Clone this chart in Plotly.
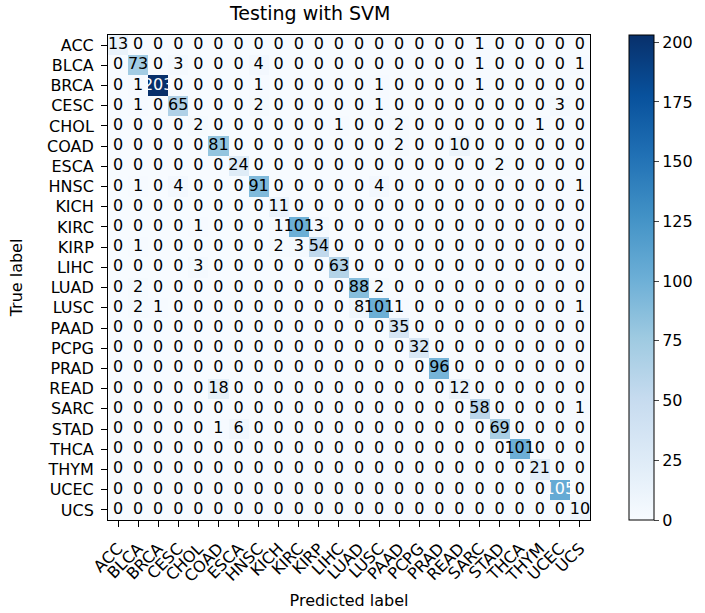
import plotly.graph_objects as go

labels = ["ACC", "BLCA", "BRCA", "CESC", "CHOL", "COAD", "ESCA", "HNSC", "KICH", "KIRC",
          "KIRP", "LIHC", "LUAD", "LUSC", "PAAD", "PCPG", "PRAD", "READ", "SARC", "STAD",
          "THCA", "THYM", "UCEC", "UCS"]

# rows = true label, columns = predicted label
row_ACC  = [13,0,0,0,0,0,0,0,0,0,0,0,0,0,0,0,0,0,1,0,0,0,0,0]
row_BLCA = [0,73,0,3,0,0,0,4,0,0,0,0,0,0,0,0,0,0,1,0,0,0,0,1]
row_BRCA = [0,1,203,0,0,0,0,1,0,0,0,0,0,1,0,0,0,0,1,0,0,0,0,0]
row_CESC = [0,1,0,65,0,0,0,2,0,0,0,0,0,1,0,0,0,0,0,0,0,0,3,0]
row_CHOL = [0,0,0,0,2,0,0,0,0,0,0,1,0,0,2,0,0,0,0,0,0,1,0,0]
row_COAD = [0,0,0,0,0,81,0,0,0,0,0,0,0,0,2,0,0,10,0,0,0,0,0,0]
row_ESCA = [0,0,0,0,0,0,24,0,0,0,0,0,0,0,0,0,0,0,0,2,0,0,0,0]
row_HNSC = [0,1,0,4,0,0,0,91,0,0,0,0,0,4,0,0,0,0,0,0,0,0,0,1]
row_KICH = [0,0,0,0,0,0,0,0,11,0,0,0,0,0,0,0,0,0,0,0,0,0,0,0]
row_KIRC = [0,0,0,0,1,0,0,0,1,101,3,0,0,0,0,0,0,0,0,0,0,0,0,0]
row_KIRP = [0,1,0,0,0,0,0,0,2,3,54,0,0,0,0,0,0,0,0,0,0,0,0,0]
row_LIHC = [0,0,0,0,3,0,0,0,0,0,0,63,0,0,0,0,0,0,0,0,0,0,0,0]
row_LUAD = [0,2,0,0,0,0,0,0,0,0,0,0,88,2,0,0,0,0,0,0,0,0,0,0]
row_LUSC = [0,2,1,0,0,0,0,0,0,0,0,0,8,101,1,0,0,0,0,0,0,0,0,1]
row_PAAD = [0,0,0,0,0,0,0,0,0,0,0,0,0,0,35,0,0,0,0,0,0,0,0,0]
row_PCPG = [0,0,0,0,0,0,0,0,0,0,0,0,0,0,0,32,0,0,0,0,0,0,0,0]
row_PRAD = [0,0,0,0,0,0,0,0,0,0,0,0,0,0,0,0,96,0,0,0,0,0,0,0]
row_READ = [0,0,0,0,0,18,0,0,0,0,0,0,0,0,0,0,0,12,0,0,0,0,0,0]
row_SARC = [0,0,0,0,0,0,0,0,0,0,0,0,0,0,0,0,0,0,58,0,0,0,0,1]
row_STAD = [0,0,0,0,0,1,6,0,0,0,0,0,0,0,0,0,0,0,0,69,0,0,0,0]
row_THCA = [0,0,0,0,0,0,0,0,0,0,0,0,0,0,0,0,0,0,0,0,101,0,0,0]
row_THYM = [0,0,0,0,0,0,0,0,0,0,0,0,0,0,0,0,0,0,0,0,0,21,0,0]
row_UCEC = [0,0,0,0,0,0,0,0,0,0,0,0,0,0,0,0,0,0,0,0,0,0,105,0]
row_UCS  = [0,0,0,0,0,0,0,0,0,0,0,0,0,0,0,0,0,0,0,0,0,0,0,10]

matrix = [row_ACC, row_BLCA, row_BRCA, row_CESC, row_CHOL, row_COAD, row_ESCA, row_HNSC,
          row_KICH, row_KIRC, row_KIRP, row_LIHC, row_LUAD, row_LUSC, row_PAAD, row_PCPG,
          row_PRAD, row_READ, row_SARC, row_STAD, row_THCA, row_THYM, row_UCEC, row_UCS]

colorbar_ticks = [0, 25, 50, 75, 100, 125, 150, 175, 200]

blues = [[0.0, "rgb(247,251,255)"], [0.125, "rgb(222,235,247)"], [0.25, "rgb(198,219,239)"],
         [0.375, "rgb(158,202,225)"], [0.5, "rgb(107,174,214)"], [0.625, "rgb(66,146,198)"],
         [0.75, "rgb(33,113,181)"], [0.875, "rgb(8,81,156)"], [1.0, "rgb(8,48,107)"]]

zmax = max(max(r) for r in matrix)
thresh = zmax / 2.0
n = len(labels)

FONT = "DejaVu Sans"

fig = go.Figure()
fig.add_trace(go.Heatmap(
    z=matrix, x=labels, y=labels, colorscale=blues, zmin=0, zmax=zmax,
    showscale=True,
    colorbar=dict(x=1.08, xanchor="left", y=0.5, yanchor="middle", len=1.0,
                  xpad=0, ypad=0,
                  thickness=25, outlinewidth=1, outlinecolor="black",
                  tickvals=colorbar_ticks, ticks="outside", ticklen=5,
                  tickfont=dict(family=FONT, size=16, color="black")),
    hoverinfo="skip",
))

xs, ys, ts, cs = [], [], [], []
for i, tl in enumerate(labels):
    for j, pl in enumerate(labels):
        v = matrix[i][j]
        xs.append(pl)
        ys.append(tl)
        ts.append(str(v))
        cs.append("white" if v > thresh else "black")

fig.add_trace(go.Scatter(
    x=xs, y=ys, text=ts, mode="text",
    textfont=dict(family=FONT, size=16, color=cs),
    textposition="middle center", showlegend=False, hoverinfo="skip",
))

fig.update_layout(
    width=705, height=613,
    margin=dict(l=108, r=112, t=35, b=93),
    paper_bgcolor="white", plot_bgcolor="white",
    font=dict(family=FONT, size=16, color="black"),
    title=dict(text="Testing with SVM", x=0.44, xanchor="center", y=0.978, yanchor="middle",
               font=dict(family=FONT, size=19, color="black")),
    showlegend=False,
)
fig.update_xaxes(
    type="category", tickmode="array", tickvals=labels, ticktext=labels,
    range=[-0.5, n - 0.5],
    tickangle=-45, ticks="outside", ticklen=6, tickcolor="black", ticklabelstandoff=6,
    showline=True, linecolor="black", linewidth=1, mirror=True, showgrid=False,
    tickfont=dict(family=FONT, size=16), automargin=False,
    title=dict(text="Predicted label", font=dict(family=FONT, size=16), standoff=10),
)
fig.update_yaxes(
    type="category", tickmode="array", tickvals=labels, ticktext=labels,
    range=[n - 0.5, -0.5], ticks="outside", ticklen=6, tickcolor="black", ticklabelstandoff=4,
    showline=True, linecolor="black", linewidth=1, mirror=True, showgrid=False,
    tickfont=dict(family=FONT, size=16), automargin=False,
    title=dict(text="True label", font=dict(family=FONT, size=16), standoff=20),
)

fig.write_html("out.html", config={"displayModeBar": False},
               post_script="document.body.style.margin='0';")
